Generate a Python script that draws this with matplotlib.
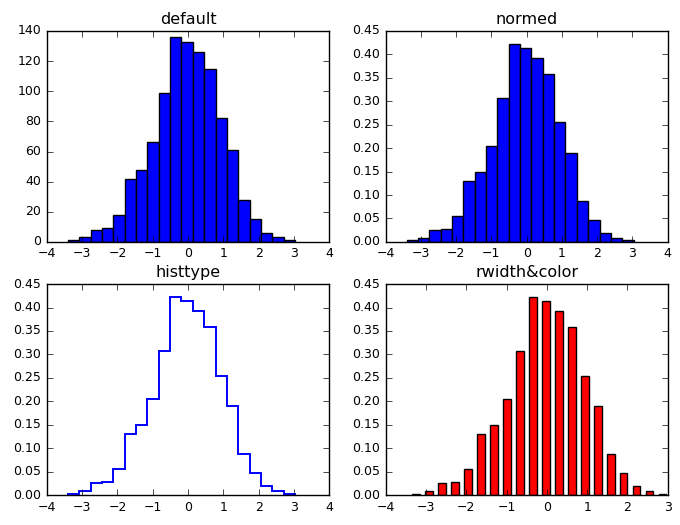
import matplotlib
matplotlib.use('Agg')
import matplotlib.pyplot as plt
import numpy as np

# histogram of 1000 normal samples, 20 bins, counts
bin_lo = -3.40
bin_hi = 3.03
counts = [1, 3, 8, 9, 18, 42, 48, 66, 99, 136,
          133, 126, 115, 82, 61, 28, 15, 6, 3, 1]
titles = ['default', 'normed', 'histtype', 'rwidth&color']

plt.style.use('classic')
plt.rcParams['xtick.labelsize'] = 9
plt.rcParams['ytick.labelsize'] = 9
plt.rcParams['axes.titlesize'] = 11.5

edges = np.linspace(bin_lo, bin_hi, len(counts) + 1)
centers = (edges[:-1] + edges[1:]) / 2

fig, axes = plt.subplots(2, 2, figsize=(6.8, 5.25), dpi=100)
fig.subplots_adjust(left=0.069, right=0.982, top=0.941, bottom=0.057,
                    wspace=0.2, hspace=0.2)
ax0, ax1, ax2, ax3 = axes.flatten()

ax0.hist(centers, bins=edges, weights=counts)
ax0.set_title(titles[0])

ax1.hist(centers, bins=edges, weights=counts, density=True)
ax1.set_title(titles[1])

ax2.hist(centers, bins=edges, weights=counts, density=True, histtype='step',
         linewidth=1.4)
ax2.set_title(titles[2])

ax3.hist(centers, bins=edges, weights=counts, density=True, rwidth=0.6, color='r')
ax3.set_title(titles[3])

fig.savefig('out.png')
